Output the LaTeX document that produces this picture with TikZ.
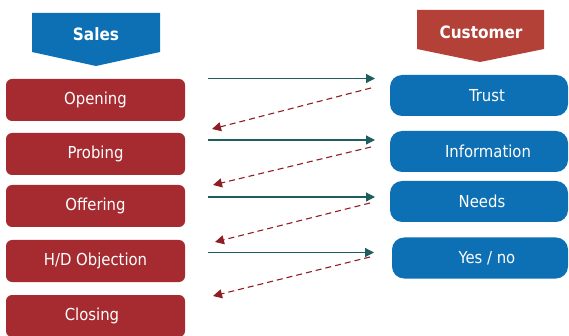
\documentclass[tikz,border=0pt]{standalone}
\usepackage{fontspec}
\setmainfont{DejaVu Sans Condensed}
\usetikzlibrary{arrows.meta}
\definecolor{redbox}{HTML}{A62B30}
\definecolor{bluebox}{HTML}{0E70B4}
\definecolor{custred}{HTML}{B44137}
\definecolor{teal}{HTML}{1E5E5E}
\definecolor{dashred}{HTML}{8E1E22}
\begin{document}
\begin{tikzpicture}[x=1pt,y=-1pt,
  salesbox/.style={draw=none,fill=redbox,rounded corners=6pt,minimum width=179pt,minimum height=42pt,text=white,font=\fontsize{16.5}{19}\selectfont,inner sep=0pt},
  custbox/.style={draw=none,fill=bluebox,rounded corners=12pt,minimum width=178pt,minimum height=41pt,text=white,font=\fontsize{16.5}{19}\selectfont,inner sep=0pt},
  headtext/.style={text=white,font=\bfseries\fontsize{17}{20}\selectfont},
  giveline/.style={draw=teal,line width=1.2pt,-{Triangle[length=9pt,width=9pt]}},
  backline/.style={draw=dashred,line width=1.1pt,dash pattern=on 6pt off 4pt,-{Triangle[length=9pt,width=9pt]}}]
\useasboundingbox (0,0) rectangle (569,336);
% headers
\fill[bluebox] (32,13) -- (160,13) -- (160,52) -- (96,66) -- (32,52) -- cycle;
\node[headtext] (sales) at (96,34) {Sales};
\fill[custred] (417,10) -- (544,10) -- (544,49) -- (480,62) -- (417,49) -- cycle;
\node[headtext] (customer) at (481,32) {Customer};
% sales boxes
\node[salesbox] (opening) at (95.5,100) {Opening};
\node[salesbox] (probing) at (95.5,154) {Probing};
\node[salesbox] (offering) at (95.5,206) {Offering};
\node[salesbox] (objection) at (95.5,261) {H/D Objection};
\node[salesbox] (closing) at (95.5,316) {\hspace*{-7pt}Closing};
% customer boxes
\node[custbox] (trust) at (479,95.5) {\hspace*{16pt}Trust};
\node[custbox] (info) at (479,151.5) {\hspace*{18pt}Information};
\node[custbox] (needs) at (479,201.5) {\hspace*{6pt}Needs};
\node[custbox,minimum width=176pt] (yesno) at (480,258) {\hspace*{14pt}Yes / no};
% arrow endpoints
\coordinate (g1s) at (208,78.5);   \coordinate (g1e) at (375,78.5);
\coordinate (g2s) at (208,140);    \coordinate (g2e) at (375,140);
\coordinate (g3s) at (208,197);    \coordinate (g3e) at (375,197);
\coordinate (g4s) at (208,252.5);  \coordinate (g4e) at (374,252.5);
\coordinate (b1s) at (371,88);     \coordinate (b1e) at (212,129);
\coordinate (b2s) at (371,147);    \coordinate (b2e) at (213,185);
\coordinate (b3s) at (370,203);    \coordinate (b3e) at (215,242);
\coordinate (b4s) at (370,257);    \coordinate (b4e) at (213,296);
\draw[giveline] (g1s) -- (g1e);
\draw[giveline] (g2s) -- (g2e);
\draw[giveline] (g3s) -- (g3e);
\draw[giveline] (g4s) -- (g4e);
\draw[backline] (b1s) -- (b1e);
\draw[backline] (b2s) -- (b2e);
\draw[backline] (b3s) -- (b3e);
\draw[backline] (b4s) -- (b4e);
\end{tikzpicture}
\end{document}
